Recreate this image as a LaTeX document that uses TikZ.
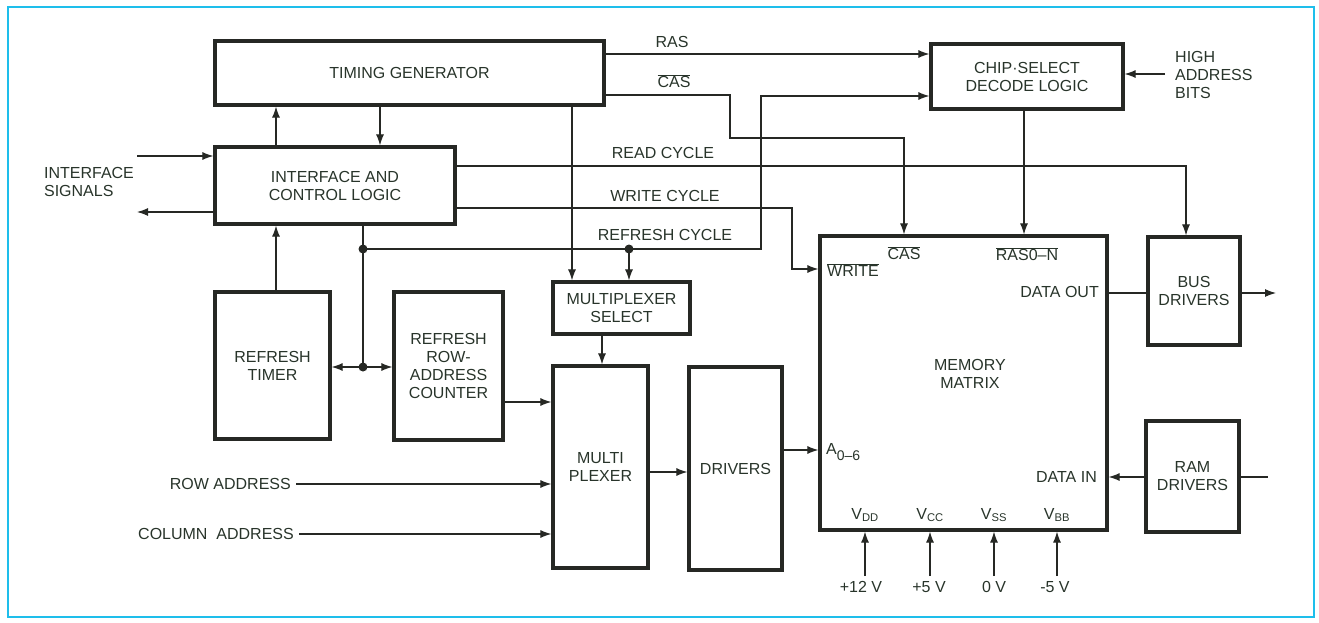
\documentclass[tikz,border=0pt]{standalone}
\usepackage{fontspec}
\setmainfont{Liberation Sans}
\usetikzlibrary{arrows.meta}
\definecolor{ink}{RGB}{38,40,36}
\definecolor{textc}{RGB}{40,52,42}
\definecolor{frame}{RGB}{30,190,235}
\begin{document}
\begin{tikzpicture}[x=1pt,y=-1pt,
  font=\fontsize{16}{18}\selectfont,
  box/.style={draw=ink, line width=3.2pt, inner sep=0pt, align=center, text=textc},
  wire/.style={draw=ink, line width=1.1pt},
  arr/.style={wire, -{Latex[length=11pt,width=8pt]}},
  lbl/.style={text=textc, inner sep=1pt, align=center},
  jdot/.style={circle, fill=ink, inner sep=0pt, minimum size=9pt}]
\useasboundingbox (0,0) rectangle (1319,622);
\draw[frame, line width=2.6pt] (8,7) rectangle (1314,617);

% boxes
\node[box, minimum width=389pt, minimum height=64pt] (tg) at (409.5,73) {TIMING GENERATOR};
\node[box, minimum width=240pt, minimum height=77pt] (icl) at (335,185.5) {INTERFACE AND\\CONTROL LOGIC};
\node[box, minimum width=192pt, minimum height=65pt] (csd) at (1027,76.5) {CHIP·SELECT\\DECODE LOGIC};
\node[box, minimum width=115pt, minimum height=147pt] (rt) at (272.5,365.5) {REFRESH\\TIMER};
\node[box, minimum width=109pt, minimum height=148pt] (rac) at (448.5,366) {REFRESH\\ROW-\\ADDRESS\\COUNTER};
\node[box, minimum width=137pt, minimum height=52pt] (ms) at (621.5,308) {MULTIPLEXER\\SELECT};
\node[box, minimum width=95pt, minimum height=202pt] (mux) at (600.5,467) {MULTI\\PLEXER};
\node[box, minimum width=93pt, minimum height=203pt] (drv) at (735.5,468.5) {DRIVERS};
\node[box, minimum width=287pt, minimum height=294pt] (mm) at (963.5,383) {};
\node[box, minimum width=92pt, minimum height=108pt] (bus) at (1194,291) {BUS\\DRIVERS};
\node[box, minimum width=93pt, minimum height=111pt] (ram) at (1192.5,476.5) {RAM\\DRIVERS};

% memory matrix texts
\node[lbl] (mmt) at (970,374) {MEMORY\\MATRIX};
\node[lbl, anchor=west] (mwr) at (826,270) {$\overline{\mbox{WRITE}}$};
\node[lbl] (mcas) at (904,253) {$\overline{\mbox{CAS}}$};
\node[lbl] (mras) at (1027,254) {$\overline{\mbox{RAS0--N}}$};
\node[lbl, anchor=east] (mdo) at (1100,292) {DATA OUT};
\node[lbl, anchor=east] (mdi) at (1098,477) {DATA IN};
\node[lbl, anchor=west] (ma) at (825,452) {A\raisebox{-6pt}{\fontsize{14}{16}\selectfont 0--6}};
\node[lbl] (vdd) at (865,515) {V\textsubscript{DD}};
\node[lbl] (vcc) at (930,515) {V\textsubscript{CC}};
\node[lbl] (vss) at (994,515) {V\textsubscript{SS}};
\node[lbl] (vbb) at (1057,515) {V\textsubscript{BB}};

% supply labels
\node[lbl, anchor=north] (p12) at (861,580) {+12 V};
\node[lbl, anchor=north] (p5) at (929,580) {+5 V};
\node[lbl, anchor=north] (p0) at (994,580) {0 V};
\node[lbl, anchor=north] (m5) at (1055,580) {-5 V};
\draw[arr] (865,576) -- (mm.south -| 865,0);
\draw[arr] (930,576) -- (mm.south -| 930,0);
\draw[arr] (994,576) -- (mm.south -| 994,0);
\draw[arr] (1057,576) -- (mm.south -| 1057,0);

% signal labels
\node[lbl] (lras) at (672,42) {RAS};
\node[lbl] (lcas) at (674,81) {$\overline{\mbox{CAS}}$};
\node[lbl] (lrd) at (663,153) {READ CYCLE};
\node[lbl] (lwr) at (665,196) {WRITE CYCLE};
\node[lbl] (lrf) at (665,235) {REFRESH CYCLE};
\node[lbl, align=left] (lis) at (89,182) {INTERFACE\\SIGNALS};
\node[lbl, align=left, anchor=west] (lhab) at (1174,75) {HIGH\\ADDRESS\\BITS};
\node[lbl, anchor=east, inner sep=5pt] (lra) at (296,484) {ROW ADDRESS};
\node[lbl, anchor=east, inner sep=5pt] (lca) at (299,534) {COLUMN\ \ ADDRESS};

% free ends
\coordinate (isin) at (137,156);
\coordinate (isout) at (137,212);
\coordinate (hab) at (1165,74);
\coordinate (busout) at (1276,293);
\coordinate (ramin) at (1268,477);

% timing <-> interface
\draw[arr] (icl.north -| 276,0) -- (tg.south -| 276,0);
\draw[arr] (tg.south -| 380,0) -- (icl.north -| 380,0);
\draw[arr] (rt.north -| 276,0) -- (icl.south -| 276,0);

% interface signals
\draw[arr] (isin) -- (icl.west |- isin);
\draw[arr] (icl.west |- isout) -- (isout);

% RAS, CAS
\draw[arr] (tg.east |- 0,54) -- (csd.west |- 0,54);
\draw[arr] (tg.east |- 0,95) -- (730,95) -- (730,138) -- (904,138) -- (mm.north -| 904,0);

% refresh cycle
\node[jdot] (d1) at (363,249) {};
\node[jdot] (d2) at (629,249) {};
\node[jdot] (d3) at (363,367) {};
\draw[wire] (icl.south -| d1) -- (d1.center) -- (d3.center);
\draw[arr] (d1.center) -- (761,249) -- (761,96) -- (csd.west |- 0,96);
\draw[arr] (d2.center) -- (ms.north -| d2);
\draw[arr] (d3.center) -- (rt.east |- d3);
\draw[arr] (d3.center) -- (rac.west |- d3);
\draw[arr] (tg.south -| 572,0) -- (ms.north -| 572,0);

% read / write cycle
\draw[arr] (icl.east |- 0,166) -- (1186,166) -- (bus.north -| 1186,0);
\draw[arr] (icl.east |- 0,208) -- (792,208) -- (792,269) -- (mm.west |- 0,269);

% chip select
\draw[arr] (csd.south -| 1024,0) -- (mm.north -| 1024,0);
\draw[arr] (hab) -- (csd.east |- hab);

% multiplexer path
\draw[arr] (ms.south -| 602,0) -- (mux.north -| 602,0);
\draw[arr] (rac.east |- 0,402) -- (mux.west |- 0,402);
\draw[arr] (lra.east) -- (mux.west |- lra.east);
\draw[arr] (lca.east) -- (mux.west |- lca.east);
\draw[arr] (mux.east |- 0,472) -- (drv.west |- 0,472);
\draw[arr] (drv.east |- 0,450) -- (mm.west |- 0,450);

% data
\draw[wire] (mm.east |- 0,293) -- (bus.west |- 0,293);
\draw[arr] (bus.east |- busout) -- (busout);
\draw[arr] (ram.west |- 0,477) -- (mm.east |- 0,477);
\draw[wire] (ram.east |- ramin) -- (ramin);
\end{tikzpicture}
\end{document}
